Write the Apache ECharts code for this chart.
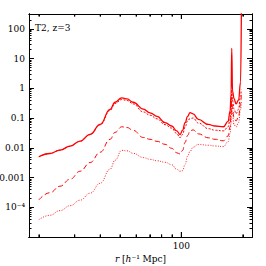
<!DOCTYPE html>
<html><head><meta charset="utf-8">
<script src="https://cdn.jsdelivr.net/npm/echarts@6/dist/echarts.min.js"></script>
<style>html,body{margin:0;padding:0;background:#fff}#c{width:266px;height:266px}</style>
</head><body><div id="c"></div>
<script>
const r = [20, 22.7, 25.4, 28.5, 31.9, 35.7, 40, 44.7, 47.3, 51, 54.2, 58, 65.1, 70.2, 76, 83.2, 89.7, 94.9, 98.5, 101.4, 104.3, 107.3, 110.3, 114.1, 121.2, 135.6, 146.3, 160.8, 169.4, 173.3, 175.3, 176.6, 178.2, 181.3, 185.4, 190.7, 195.1, 196.9];
const solid = [0.005, 0.00644, 0.00837, 0.0114, 0.0168, 0.0284, 0.0615, 0.196, 0.34, 0.48, 0.44, 0.34, 0.20, 0.15, 0.114, 0.070, 0.054, 0.037, 0.028, 0.039, 0.070, 0.114, 0.152, 0.138, 0.090, 0.061, 0.054, 0.051, 0.077, 0.17, 0.62, 22, 0.79, 0.45, 0.30, 0.40, 1.6, 400];
const fineDash = [0.005, 0.00644, 0.00835, 0.0113, 0.0166, 0.0278, 0.059, 0.18, 0.31, 0.42, 0.39, 0.30, 0.16, 0.125, 0.094, 0.060, 0.046, 0.030, 0.022, 0.028, 0.05, 0.08, 0.097, 0.10, 0.068, 0.044, 0.039, 0.037, 0.05, 0.09, 0.2, 0.9, 0.4, 0.2, 0.14, 0.2, 0.6, 0.9];
const longDash = [1.77e-4, 3.1e-4, 5.1e-4, 8.8e-4, 1.63e-3, 3.2e-3, 7.1e-3, 0.0193, 0.033, 0.0507, 0.048, 0.0387, 0.0222, 0.0193, 0.0165, 0.0131, 0.0096, 0.0068, 0.0062, 0.0082, 0.0153, 0.026, 0.037, 0.040, 0.0295, 0.0217, 0.0193, 0.0172, 0.025, 0.05, 0.12, 0.5, 0.2, 0.1, 0.08, 0.11, 0.3, 0.6];
const dotted = [3.8e-5, 5.4e-5, 7.7e-5, 1.13e-4, 1.73e-4, 2.97e-4, 6.4e-4, 1.9e-3, 3.8e-3, 8.2e-3, 7.9e-3, 6.5e-3, 4.7e-3, 4.1e-3, 3.66e-3, 3.26e-3, 2.7e-3, 1.9e-3, 1.63e-3, 1.7e-3, 2.8e-3, 5.2e-3, 7.6e-3, 0.0105, 0.013, 0.0122, 0.0115, 0.011, 0.016, 0.03, 0.07, 0.3, 0.12, 0.06, 0.05, 0.07, 0.2, 0.4];

const xLabelValues = [100];
const xLabelTexts = ['100'];
const xMajorTicks = [100];
const xMinorTicks = [20, 30, 40, 50, 60, 70, 80, 90, 200];
const yLabelValues = [1e-4, 1e-3, 0.01, 0.1, 1, 10, 100];
const yLabelTexts = ['10⁻⁴', '0.001', '0.01', '0.1', '1', '10', '100'];
const yMajorTicks = [1e-5, 1e-4, 1e-3, 0.01, 0.1, 1, 10, 100];
const yMinorTicks = [];
for (let k = -5; k <= 2; k++) for (let m = 2; m <= 9; m++) { const v = m * Math.pow(10, k); if (v < 316) yMinorTicks.push(v); }

const XMIN = 17.9, XMAX = 222, YMIN = 1e-5, YMAX = 316.2;
const FONT = 'DejaVu Serif';
const L10 = Math.log10;

function lookup(vals, texts, v) {
  for (let i = 0; i < vals.length; i++) if (Math.abs(L10(v) - L10(vals[i])) < 1e-6) return texts[i];
  return '';
}

function logAx(pos, min, max, labelVals, labelTexts) {
  return {
    type: 'log', logBase: 10, min: min, max: max, position: pos,
    axisLine: { show: true, onZero: false, lineStyle: { color: '#000', width: 1 } },
    axisTick: { show: false },
    axisLabel: labelVals ? { show: true, customValues: labelVals, margin: 4, color: '#000', fontFamily: FONT, fontSize: 9,
      formatter: v => lookup(labelVals, labelTexts, v) } : { show: false },
    splitLine: { show: false }, minorTick: { show: false }
  };
}
// tick axes on log10 of the same range (these also draw the frame line)
function tickAx(pos, min, max, ticks, len) {
  return {
    type: 'value', min: L10(min), max: L10(max), position: pos,
    axisLine: { show: true, onZero: false, lineStyle: { color: '#000', width: 1 } },
    axisTick: { show: true, inside: true, length: len, customValues: ticks.map(L10), lineStyle: { color: '#000', width: 1 } },
    axisLabel: { show: false },
    splitLine: { show: false }, minorTick: { show: false }
  };
}

const xa0 = logAx('bottom', XMIN, XMAX, xLabelValues, xLabelTexts);
xa0.name = '{i|r} [{i|h}⁻¹ Mpc]';
xa0.nameLocation = 'middle';
xa0.nameGap = 17;
xa0.nameTextStyle = { color: '#000', fontFamily: FONT, fontSize: 9, rich: { i: { fontStyle: 'italic', fontFamily: FONT, fontSize: 9, color: '#000' } } };

function ser(vals, dash, width) {
  return {
    type: 'line', xAxisIndex: 0, yAxisIndex: 0, showSymbol: false, symbol: 'none',
    smooth: 0.45, smoothMonotone: 'x', animation: false,
    data: r.map((x, i) => [x, vals[i]]),
    lineStyle: { color: '#ff0000', width: width, type: dash }
  };
}
function xTicks(vals, yEdge, len, dir) {
  return {
    type: 'scatter', xAxisIndex: 0, yAxisIndex: 0, silent: true, clip: false, animation: false,
    symbol: 'rect', symbolSize: [1.2, len], symbolOffset: [0, dir * len / 2],
    itemStyle: { color: '#000' },
    data: vals.map(v => [v, yEdge])
  };
}

const chart = echarts.init(document.getElementById('c'), null, { renderer: 'svg' });
chart.setOption({
  animation: false,
  backgroundColor: '#fff',
  grid: { left: 29, top: 14, right: 14, bottom: 29, containLabel: false, outerBoundsMode: 'none' },
  xAxis: [
    xa0,
    tickAx('top', XMIN, XMAX, xMajorTicks, 5),
    tickAx('top', XMIN, XMAX, xMinorTicks, 2.5),
    tickAx('bottom', XMIN, XMAX, xMajorTicks, 5),
    tickAx('bottom', XMIN, XMAX, xMinorTicks, 2.5)
  ],
  yAxis: [
    logAx('left', YMIN, YMAX, yLabelValues, yLabelTexts),
    tickAx('left', YMIN, YMAX, yMajorTicks, 5),
    tickAx('left', YMIN, YMAX, yMinorTicks, 2.5),
    tickAx('right', YMIN, YMAX, yMajorTicks, 5),
    tickAx('right', YMIN, YMAX, yMinorTicks, 2.5)
  ],
  graphic: [{ type: 'text', left: 35, top: 23, style: { text: 'T2, z=3', font: '9px "DejaVu Serif"', fill: '#000' } }],
  series: [
    ser(dotted, [1, 1.5], 0.9),
    ser(longDash, [5, 3], 1),
    ser(fineDash, [2, 1.5], 1),
    ser(solid, 'solid', 1.3),
    xTicks(xMajorTicks, YMIN, 5, -1),
    xTicks(xMinorTicks, YMIN, 2.5, -1),
    xTicks(xMajorTicks, YMAX, 5, 1),
    xTicks(xMinorTicks, YMAX, 2.5, 1)
  ]
});
</script></body></html>
